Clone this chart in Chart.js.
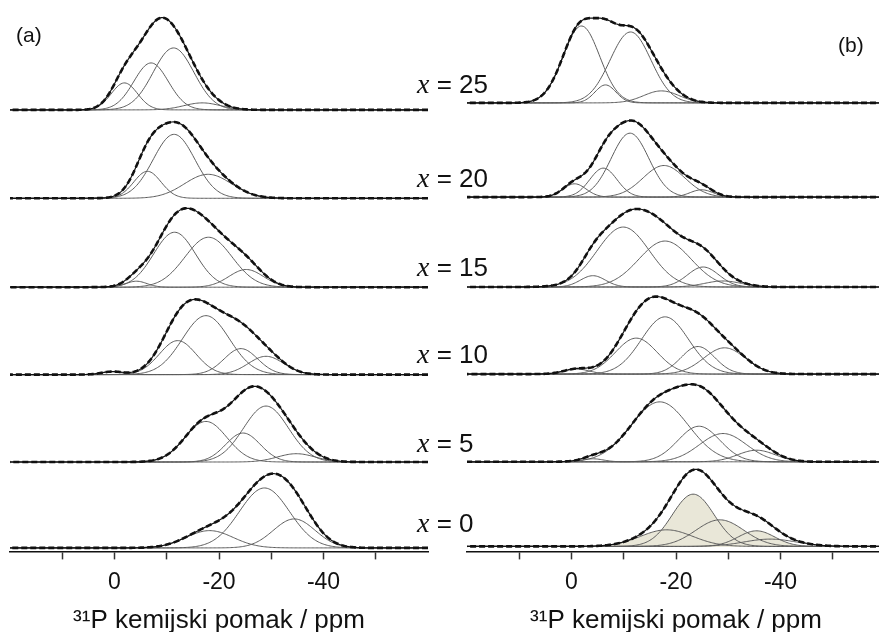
<!DOCTYPE html>
<html>
<head>
<meta charset="utf-8">
<script src="https://cdn.jsdelivr.net/npm/chart.js@4.4.1/dist/chart.umd.min.js"></script>
<style>
  html, body { margin: 0; padding: 0; background: #fff; overflow: hidden; }
  #wrap { position: relative; width: 879px; height: 632px; overflow: hidden; }
  canvas { position: absolute; top: 0; }
  #chartA { left: 0; }
  #chartB { left: 457px; }
  .lbl { position: absolute; left: 417px; font-family: "Liberation Sans", Arial, sans-serif; font-size: 26px; line-height: 1; color: #111; white-space: nowrap; }
  .lbl i { font-family: "Liberation Serif", "Times New Roman", serif; font-size: 28px; }
  .tag { position: absolute; font-family: "Liberation Sans", Arial, sans-serif; font-size: 21px; line-height: 1; color: #111; }
</style>
</head>
<body>
<div id="wrap">
  <canvas id="chartA" width="440" height="632"></canvas>
  <canvas id="chartB" width="440" height="632"></canvas>
  <div class="tag" style="left:16px; top:24px;">(a)</div>
  <div class="tag" style="left:838px; top:34px;">(b)</div>
  <div id="xlabels"></div>
</div>
<script>
// ppm axis (reversed, as usual for NMR)
const ppmMin = -60, ppmMax = 20;
const ppmLabels = [0, -20, -40];
const compositions = [25, 20, 15, 10, 5, 0];

// fitted components: centre (ppm), height (a.u.), sigma (ppm)
// one row per spectrum, top (x = 25) to bottom (x = 0)
const centresA = [
  [-1.9, -7.0, -11.3, -16.8],
  [-6.3, -11.4, -17.9],
  [-4.2, -11.5, -18.0, -25.2],
  [0.4, -12.1, -17.5, -24.2, -29.0],
  [-17.5, -24.6, -29.0, -34.8],
  [-18.2, -28.7, -34.4]
];
const heightsA = [
  [27, 47, 62, 7],
  [27, 64, 24],
  [6, 55, 50, 17.7],
  [3, 34, 59, 26, 18.3],
  [40.6, 29, 56, 8.3],
  [17.3, 60, 29]
];
const sigmasA = [
  [2.5, 3.3, 3.9, 3.5],
  [2.6, 4.0, 4.5],
  [2.0, 4.0, 4.5, 3.3],
  [2.0, 3.5, 4.5, 3.2, 3.4],
  [4.0, 3.3, 4.3, 3.6],
  [4.5, 4.8, 4.0]
];

const centresB = [
  [-1.9, -6.5, -11.3, -17.2],
  [-0.6, -6.1, -11.2, -17.7, -24.9],
  [-4.1, -9.9, -17.9, -25.2, -29.0],
  [-1.0, -12.4, -17.9, -24.2, -29.3],
  [-4.1, -16.9, -24.4, -29.0, -35.4],
  [-18.2, -23.3, -28.4, -35.4, -38.0]
];
const heightsB = [
  [77, 18, 71, 12],
  [13.3, 29, 64, 31.6, 7.3],
  [11.3, 60, 46, 20, 6],
  [5, 36, 57.3, 27.6, 26.3],
  [3, 60, 35.6, 28.3, 11.6],
  [16.6, 52.3, 26.6, 15.6, 7.3]
];
const sigmasB = [
  [3.5, 2.0, 3.9, 3.4],
  [2.2, 2.6, 3.6, 4.0, 2.2],
  [2.4, 5.0, 5.0, 3.0, 3.5],
  [2.5, 4.0, 4.5, 3.2, 4.0],
  [2.0, 5.5, 4.0, 4.5, 3.6],
  [5.0, 4.0, 4.6, 3.5, 5.0]
];
// shaded components in (b), x = 0
const shadedB = [0, 1, 2, 3];

// layout: baseline of each trace, in px above the axis line
const plotHeight = 552;
const baseA = [442, 353.5, 264.5, 177, 89.5, 3.5];
const baseB = [449, 354.7, 264.7, 177.5, 89.7, 5];
const labelTops = [70, 164, 253, 340, 429, 509];

var grid = [];
for (let p = ppmMin; p <= ppmMax + 1e-9; p += 0.25) grid.push(p);

function gauss(p, c, h, s) {
  return h * Math.exp(-((p - c) * (p - c)) / (2 * s * s));
}

function buildDatasets(centres, heights, sigmas, bases, shadeRow, shadeList) {
  var sets = [];
  centres.forEach(function(row, i) {
    var base = bases[i];
    var sum = grid.map(function() { return 0; });
    row.forEach(function(c, k) {
      var pts = grid.map(function(p, j) {
        var v = gauss(p, c, heights[i][k], sigmas[i][k]);
        sum[j] += v;
        return {x: p, y: base + v};
      });
      var shaded = (i === shadeRow && shadeList.indexOf(k) >= 0);
      sets.push({
        data: pts,
        borderColor: '#5c5c5c',
        borderWidth: 1,
        backgroundColor: '#e9e7d8',
        fill: shaded ? {value: base} : false,
        order: 2
      });
    });
    var sumPts = grid.map(function(p, j) { return {x: p, y: base + sum[j]}; });
    sets.push({data: sumPts, borderColor: '#111', borderWidth: 1.2, fill: false, order: 1});
    sets.push({data: sumPts, borderColor: '#111', borderWidth: 2.6, borderDash: [6, 3], fill: false, order: 0});
  });
  return sets;
}

function makeChart(id, datasets) {
  return new Chart(document.getElementById(id), {
    type: 'line',
    data: {datasets: datasets},
    options: {
      responsive: false,
      animation: false,
      devicePixelRatio: 1,
      layout: {padding: {left: 10, right: 12, top: 0, bottom: 0}},
      elements: {point: {radius: 0}, line: {tension: 0}},
      plugins: {
        legend: {display: false},
        tooltip: {enabled: false},
        filler: {drawTime: 'beforeDatasetsDraw'}
      },
      scales: {
        x: {
          type: 'linear',
          reverse: true,
          min: ppmMin,
          max: ppmMax,
          border: {display: true, color: '#111', width: 1.5},
          grid: {
            drawOnChartArea: false,
            tickLength: 8,
            tickWidth: 1.5,
            tickColor: function(ctx) {
              var v = ctx.tick ? ctx.tick.value : null;
              return (v === ppmMin || v === ppmMax) ? 'rgba(0,0,0,0)' : '#333';
            }
          },
          ticks: {
            stepSize: 10,
            autoSkip: false,
            maxRotation: 0,
            padding: 9,
            color: '#111',
            font: {family: 'Liberation Sans', size: 23},
            callback: function(v) { return ppmLabels.indexOf(v) >= 0 ? String(v) : ''; }
          },
          title: {
            display: true,
            text: '³¹P kemijski pomak / ppm',
            color: '#111',
            font: {family: 'Liberation Sans', size: 26, lineHeight: 1},
            padding: {top: 3, bottom: -2}
          }
        },
        y: {display: false, min: 0, max: plotHeight}
      }
    }
  });
}

makeChart('chartA', buildDatasets(centresA, heightsA, sigmasA, baseA, -1, []));
makeChart('chartB', buildDatasets(centresB, heightsB, sigmasB, baseB, 5, shadedB));

var holder = document.getElementById('xlabels');
compositions.forEach(function(x, i) {
  var d = document.createElement('div');
  d.className = 'lbl';
  d.style.top = labelTops[i] + 'px';
  d.innerHTML = '<i>x</i> = ' + x;
  holder.appendChild(d);
});
</script>
</body>
</html>
